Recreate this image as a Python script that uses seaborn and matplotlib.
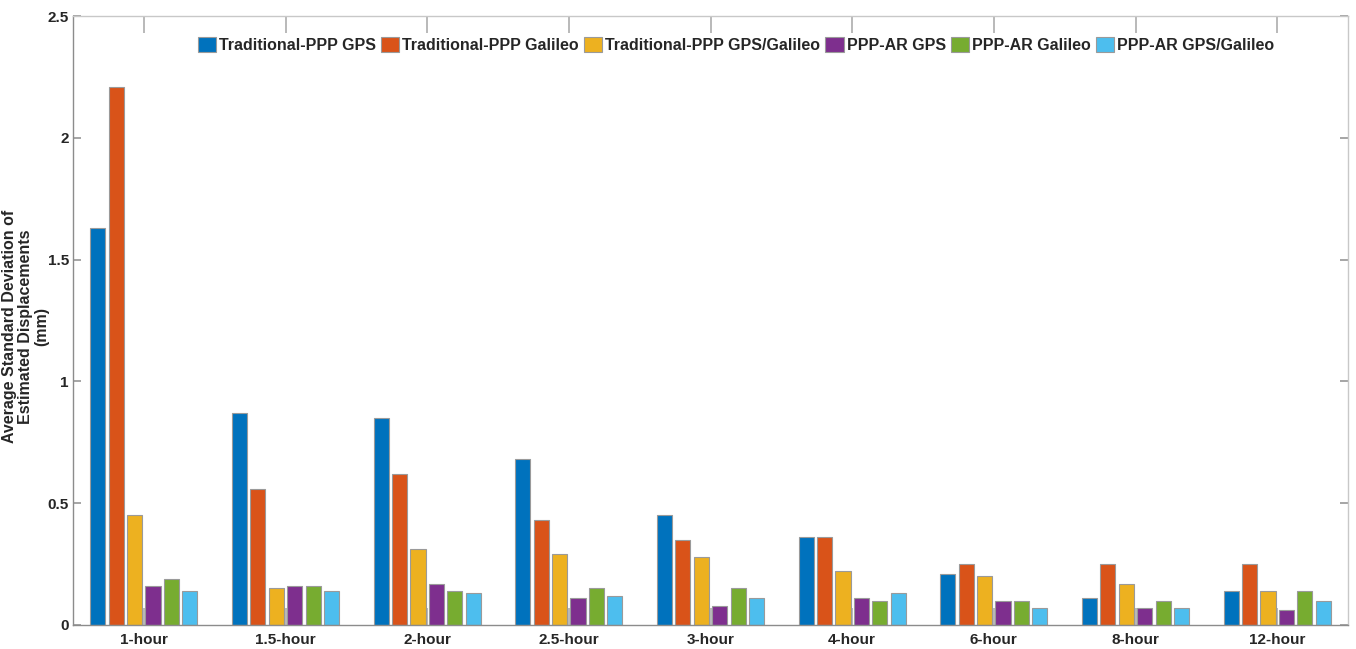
import matplotlib
matplotlib.use("Agg")
import matplotlib.pyplot as plt
import seaborn as sns
import pandas as pd

categories = ["1-hour", "1.5-hour", "2-hour", "2.5-hour", "3-hour", "4-hour", "6-hour", "8-hour", "12-hour"]
series_names = ["Traditional-PPP GPS", "Traditional-PPP Galileo", "Traditional-PPP GPS/Galileo",
                "PPP-AR GPS", "PPP-AR Galileo", "PPP-AR GPS/Galileo"]
trad_gps = [1.63, 0.87, 0.85, 0.68, 0.45, 0.36, 0.21, 0.11, 0.14]
trad_gal = [2.21, 0.56, 0.62, 0.43, 0.35, 0.36, 0.25, 0.25, 0.25]
trad_gg = [0.45, 0.15, 0.31, 0.29, 0.28, 0.22, 0.20, 0.17, 0.14]
ar_gps = [0.16, 0.16, 0.17, 0.11, 0.08, 0.11, 0.10, 0.07, 0.06]
ar_gal = [0.19, 0.16, 0.14, 0.15, 0.15, 0.10, 0.10, 0.10, 0.14]
ar_gg = [0.14, 0.14, 0.13, 0.12, 0.11, 0.13, 0.07, 0.07, 0.10]
y_ticks = [0, 0.5, 1, 1.5, 2, 2.5]
y_tick_labels = ["0", "0.5", "1", "1.5", "2", "2.5"]

colors = ["#0072BD", "#D95319", "#EDB120", "#7E2F8E", "#77AC30", "#4DBEEE"]

all_series = [trad_gps, trad_gal, trad_gg, ar_gps, ar_gal, ar_gg]
rows = []
for name, vals in zip(series_names, all_series):
    for c, v in zip(categories, vals):
        rows.append({"Window": c, "Series": name, "Value": v})
df = pd.DataFrame(rows)

sns.set_theme(style="white")
plt.rcParams["font.family"] = ["Liberation Sans", "DejaVu Sans"]
plt.rcParams["font.weight"] = "bold"

fig = plt.figure(figsize=(13.56, 6.49), dpi=100)
ax = fig.add_axes([73 / 1356, 24 / 649, 1275 / 1356, 609 / 649])

sns.barplot(data=df, x="Window", y="Value", hue="Series", order=categories,
            hue_order=series_names, palette=colors, width=0.78, gap=0.18,
            edgecolor="#9a9a9a", linewidth=0.8, saturation=1, ax=ax)

ax.set_ylim(0, 2.5)
ax.set_xlim(-0.5, len(categories) - 0.5)
ax.set_yticks(y_ticks)
ax.set_yticklabels(y_tick_labels, fontsize=11, fontweight="bold", color="#262626")
ax.set_xticks(range(len(categories)))
ax.set_xticklabels(categories, fontsize=11, fontweight="bold", color="#262626")
ax.set_xlabel("")
ax.set_ylabel("Average Standard Deviation of\nEstimated Displacements\n(mm)",
              fontsize=11.5, fontweight="bold", color="#262626",
              linespacing=1.1, ha="center", va="center")
ax.yaxis.set_label_coords(-47 / 1275, 0.49)
ax.set_axisbelow(True)

for side in ["left", "bottom"]:
    ax.spines[side].set_color("#8c8c8c")
    ax.spines[side].set_linewidth(1.0)
for side in ["top", "right"]:
    ax.spines[side].set_visible(True)
    ax.spines[side].set_color("#c8c8c8")
    ax.spines[side].set_linewidth(1.0)

ax.tick_params(axis="y", direction="in", length=6, color="#9a9a9a", right=True, left=True, pad=3)
ax.tick_params(axis="x", direction="in", length=12, color="#b0b0b0", bottom=True, top=True, pad=6)

leg = ax.legend(loc="center", bbox_to_anchor=(0.52, 0.952), ncol=6, frameon=False,
                handlelength=1.15, handleheight=1.0, handletextpad=0.2, columnspacing=0.3,
                prop={"weight": "bold", "size": 11.5})
for t in leg.get_texts():
    t.set_color("#262626")

fig.savefig("out.png", dpi=100)
